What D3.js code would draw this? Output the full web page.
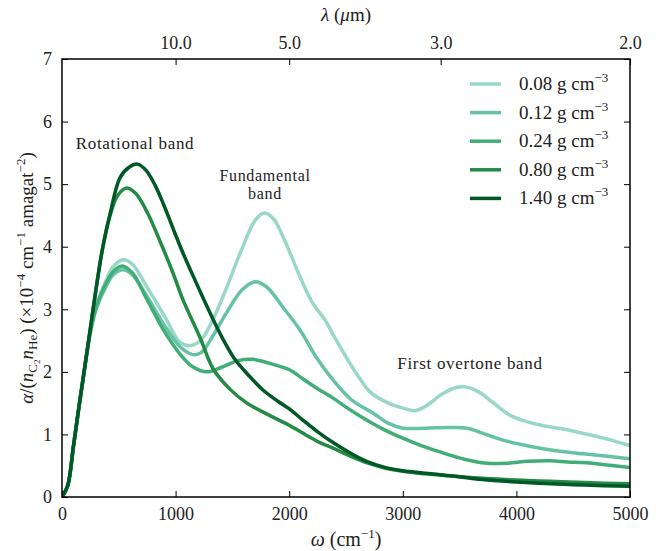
<!DOCTYPE html>
<html><head><meta charset="utf-8">
<script src="https://cdn.jsdelivr.net/npm/d3@7"></script>
<style>body{margin:0;background:#fff}svg{display:block}text{font-family:"Liberation Serif","DejaVu Serif",serif;fill:#222}</style>
</head><body><svg id="c" width="662" height="551"></svg>
<script>
const seriesLabels = ["0.08", "0.12", "0.24", "0.80", "1.40"];
const seriesColors = ["#99d8c9", "#66c2a4", "#41ae76", "#238b45", "#005824"];
const s008 = [[0,0],[50,0.18],[100,0.8],[150,1.45],[200,2.07],[250,2.65],[300,3.05],[378,3.42],[450,3.68],[540,3.79],[620,3.72],[750,3.35],[900,2.9],[1040,2.47],[1130,2.42],[1220,2.5],[1320,2.8],[1450,3.35],[1580,3.95],[1700,4.42],[1780,4.54],[1860,4.45],[1960,4.1],[2095,3.52],[2200,3.12],[2315,2.83],[2400,2.55],[2490,2.27],[2600,1.95],[2711,1.68],[2850,1.52],[3000,1.42],[3107,1.38],[3200,1.45],[3350,1.65],[3470,1.75],[3548,1.76],[3650,1.7],[3800,1.5],[3950,1.3],[4100,1.2],[4208,1.15],[4400,1.09],[4533,1.04],[4700,0.97],[4850,0.9],[5000,0.82]];
const s012 = [[0,0],[50,0.18],[100,0.8],[150,1.45],[200,2.07],[250,2.62],[300,3.0],[378,3.33],[450,3.55],[540,3.63],[620,3.55],[750,3.2],[900,2.75],[1040,2.4],[1144,2.28],[1220,2.3],[1320,2.55],[1450,2.95],[1580,3.3],[1699,3.44],[1800,3.36],[1950,3.02],[2095,2.67],[2250,2.2],[2386,1.87],[2550,1.55],[2740,1.34],[2870,1.18],[3003,1.1],[3200,1.1],[3400,1.11],[3565,1.1],[3700,1.02],[3900,0.9],[4149,0.8],[4350,0.74],[4589,0.69],[4800,0.65],[5000,0.61]];
const s024 = [[0,0],[50,0.18],[100,0.8],[150,1.45],[200,2.07],[250,2.65],[300,3.03],[378,3.38],[450,3.6],[530,3.69],[620,3.58],[750,3.15],[900,2.65],[1040,2.28],[1150,2.08],[1276,2.0],[1400,2.07],[1550,2.18],[1683,2.2],[1800,2.15],[2007,2.03],[2095,1.92],[2250,1.73],[2386,1.58],[2530,1.4],[2681,1.23],[2830,1.08],[2975,0.96],[3150,0.83],[3327,0.72],[3550,0.6],[3738,0.54],[3914,0.54],[4100,0.57],[4296,0.58],[4450,0.56],[4589,0.55],[4800,0.51],[5000,0.47]];
const s080 = [[0,0],[50,0.18],[100,0.8],[150,1.45],[200,2.07],[250,2.7],[300,3.33],[360,4.0],[420,4.48],[490,4.82],[570,4.94],[650,4.85],[750,4.55],[860,4.1],[977,3.58],[1065,3.15],[1215,2.55],[1330,2.05],[1480,1.72],[1628,1.5],[1831,1.3],[2007,1.14],[2130,1.01],[2271,0.87],[2386,0.78],[2530,0.66],[2681,0.55],[2850,0.46],[3000,0.41],[3200,0.37],[3400,0.34],[3700,0.3],[4000,0.27],[4300,0.25],[4600,0.23],[5000,0.21]];
const s140 = [[0,0],[50,0.18],[100,0.8],[150,1.45],[200,2.07],[250,2.7],[300,3.33],[360,4.0],[420,4.5],[510,5.1],[590,5.27],[663,5.32],[740,5.22],[820,4.98],[900,4.65],[980,4.28],[1060,3.92],[1150,3.55],[1250,3.15],[1340,2.8],[1430,2.48],[1530,2.18],[1640,1.95],[1769,1.71],[1900,1.53],[2007,1.4],[2120,1.23],[2245,1.05],[2386,0.87],[2530,0.71],[2681,0.57],[2850,0.47],[3000,0.42],[3200,0.38],[3415,0.34],[3700,0.28],[4005,0.24],[4300,0.21],[4600,0.19],[5000,0.17]];
const seriesData = [s008, s012, s024, s080, s140];
const xTicks = [0, 1000, 2000, 3000, 4000, 5000];
const yTicks = [0, 1, 2, 3, 4, 5, 6, 7];
const lambdaTicks = [10.0, 5.0, 3.0, 2.0];

const svg = d3.select("#c");
const L = 62, R = 630, T = 59, B = 497;
const x = d3.scaleLinear().domain([0, 5000]).range([L, R]);
const y = d3.scaleLinear().domain([0, 7]).range([B, T]);
const FS = 18;

// series
const line = d3.line().x(d => x(d[0])).y(d => y(d[1])).curve(d3.curveCatmullRom.alpha(0.5));
const plot = svg.append("g");
plot.append("clipPath").attr("id", "clip").append("rect").attr("x", L).attr("y", T).attr("width", R - L).attr("height", B - T);
seriesData.forEach((s, i) => {
  plot.append("path").attr("d", line(s)).attr("fill", "none").attr("stroke", seriesColors[i])
    .attr("stroke-width", 3.5).attr("stroke-linejoin", "round").attr("clip-path", "url(#clip)");
});

// axes (ticks inward)
const tl = 6;
const gB = svg.append("g").attr("transform", `translate(0,${B})`).call(d3.axisBottom(x).tickValues(xTicks).tickSizeInner(-tl).tickSizeOuter(0).tickPadding(10).tickFormat(d3.format("d")));
const gL = svg.append("g").attr("transform", `translate(${L},0)`).call(d3.axisLeft(y).tickValues(yTicks).tickSizeInner(-tl).tickSizeOuter(0).tickPadding(10).tickFormat(d3.format("d")));
const gR = svg.append("g").attr("transform", `translate(${R},0)`).call(d3.axisRight(y).tickValues(yTicks).tickSizeInner(-tl).tickSizeOuter(0).tickFormat(""));
const gT = svg.append("g").attr("transform", `translate(0,${T})`).call(d3.axisTop(x).tickValues(lambdaTicks.map(l => 1e4 / l)).tickSizeInner(-tl).tickSizeOuter(0).tickPadding(10).tickFormat((d, i) => lambdaTicks[i].toFixed(1)));
[gB, gL, gR, gT].forEach(g => {
  g.select(".domain").remove();
  g.selectAll(".tick line").attr("stroke", "#000").attr("stroke-width", 1);
  g.selectAll("text").attr("font-size", FS).attr("fill", "#222").style("font-family", '"Liberation Serif",serif');
});
svg.append("rect").attr("x", L).attr("y", T).attr("width", R - L).attr("height", B - T).attr("fill", "none").attr("stroke", "#000").attr("stroke-width", 1.5);

// axis titles
const xt = svg.append("text").attr("x", (L + R) / 2).attr("y", 546).attr("text-anchor", "middle").attr("font-size", 20);
xt.append("tspan").attr("font-style", "italic").text("ω");
xt.append("tspan").text(" (cm");
xt.append("tspan").attr("font-size", 13).attr("dy", -8).text("−1");
xt.append("tspan").attr("dy", 8).text(")");

const tt = svg.append("text").attr("x", (L + R) / 2).attr("y", 21).attr("text-anchor", "middle").attr("font-size", 19);
tt.append("tspan").attr("font-style", "italic").text("λ");
tt.append("tspan").text(" (");
tt.append("tspan").attr("font-style", "italic").text("μ");
tt.append("tspan").text("m)");

const yt = svg.append("text").attr("transform", `translate(33,${(T + B) / 2}) rotate(-90)`).attr("text-anchor", "middle").attr("font-size", 19);
yt.append("tspan").attr("font-style", "italic").text("α");
yt.append("tspan").text("/(");
yt.append("tspan").attr("font-style", "italic").text("n");
yt.append("tspan").attr("font-size", 13).attr("dy", 4).text("C");
yt.append("tspan").attr("font-size", 9).attr("dy", 3).text("2");
yt.append("tspan").attr("font-style", "italic").attr("dy", -7).text("n");
yt.append("tspan").attr("font-size", 13).attr("dy", 4).text("He");
yt.append("tspan").attr("dy", -4).text(") (×10");
yt.append("tspan").attr("font-size", 13).attr("dy", -8).text("−4");
yt.append("tspan").attr("dy", 8).text(" cm");
yt.append("tspan").attr("font-size", 13).attr("dy", -8).text("−1");
yt.append("tspan").attr("dy", 8).text(" amagat");
yt.append("tspan").attr("font-size", 13).attr("dy", -8).text("−2");
yt.append("tspan").attr("dy", 8).text(")");

// annotations
const ann = [["Rotational band", 135, 149, 17], ["Fundamental", 265, 181, 16], ["band", 265, 199, 16], ["First overtone band", 470, 369, 17]];
ann.forEach(a => svg.append("text").attr("x", a[1]).attr("y", a[2]).attr("text-anchor", "middle").attr("font-size", a[3]).attr("letter-spacing", 0.7).text(a[0]));

// legend
seriesLabels.forEach((lab, i) => {
  const yy = 84 + i * 28.6;
  svg.append("line").attr("x1", 470).attr("x2", 501).attr("y1", yy).attr("y2", yy).attr("stroke", seriesColors[i]).attr("stroke-width", 3.5);
  const t = svg.append("text").attr("x", 519).attr("y", yy + 6).attr("font-size", 19);
  t.append("tspan").text(lab + " g cm");
  t.append("tspan").attr("font-size", 13).attr("dy", -8).text("−3");
});
</script></body></html>
